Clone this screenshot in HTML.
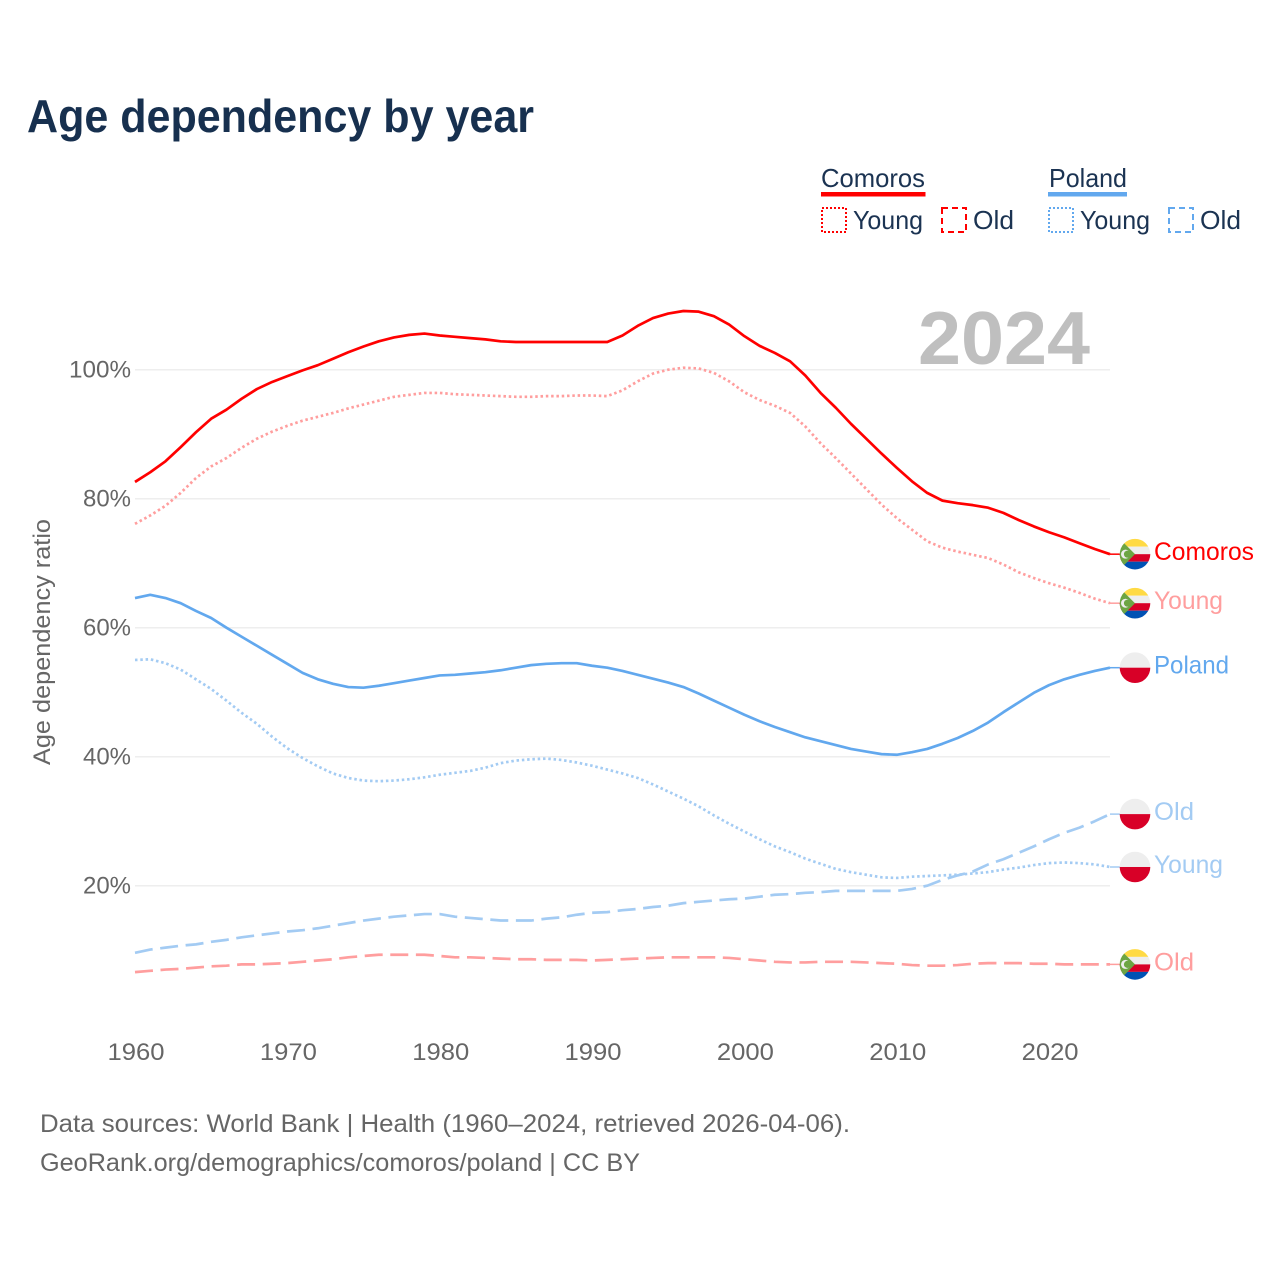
<!DOCTYPE html>
<html lang="en">
<head>
<meta charset="utf-8">
<title>Age dependency by year</title>
<style>
html,body{margin:0;padding:0;background:#fff;}
svg{display:block;}
text{font-family:"Liberation Sans",sans-serif;}
</style>
</head>
<body>
<svg id="chart" xmlns="http://www.w3.org/2000/svg" width="1280" height="1280" viewBox="0 0 1280 1280">
<defs><clipPath id="flag-clip"><circle cx="0" cy="0" r="15.3"/></clipPath></defs>
<rect x="0" y="0" width="1280" height="1280" fill="#fff"/>
<text x="27" y="132" font-size="46" font-weight="700" fill="#17304f" textLength="507" lengthAdjust="spacingAndGlyphs">Age dependency by year</text>

<g font-size="26" fill="#1b3352">
  <text x="821" y="187" textLength="104" lengthAdjust="spacingAndGlyphs">Comoros</text>
  <rect x="821" y="192" width="104.500" height="4.500" fill="#ff0000"/>
  <rect x="822" y="208" width="24" height="24" fill="none" stroke="#ff0000" stroke-width="2" stroke-dasharray="2 2"/>
  <text x="853" y="229" textLength="70" lengthAdjust="spacingAndGlyphs">Young</text>
  <rect x="942" y="208" width="24" height="24" fill="none" stroke="#ff0000" stroke-width="2" stroke-dasharray="6 4"/>
  <text x="973" y="229" textLength="41" lengthAdjust="spacingAndGlyphs">Old</text>
  <text x="1049" y="187" textLength="78" lengthAdjust="spacingAndGlyphs">Poland</text>
  <rect x="1048" y="192" width="79" height="4.500" fill="#62a8ee"/>
  <rect x="1049" y="208" width="24" height="24" fill="none" stroke="#62a8ee" stroke-width="2" stroke-dasharray="2 2"/>
  <text x="1080" y="229" textLength="70" lengthAdjust="spacingAndGlyphs">Young</text>
  <rect x="1169" y="208" width="24" height="24" fill="none" stroke="#62a8ee" stroke-width="2" stroke-dasharray="6 4"/>
  <text x="1200" y="229" textLength="41" lengthAdjust="spacingAndGlyphs">Old</text>
</g>

<g id="grid"></g>
<text x="918" y="364" font-size="75" font-weight="700" fill="#bfbfbf" textLength="172" lengthAdjust="spacingAndGlyphs">2024</text>
<g id="y-ticks" font-size="24" fill="#666"></g>
<g id="x-ticks" font-size="24" fill="#666"></g>
<text transform="translate(50 642) rotate(-90)" text-anchor="middle" font-size="24" fill="#666" textLength="246" lengthAdjust="spacingAndGlyphs">Age dependency ratio</text>
<g id="series"></g>
<g id="end-labels" font-size="25"></g>

<text x="40" y="1132" font-size="25" fill="#666" textLength="810" lengthAdjust="spacingAndGlyphs">Data sources: World Bank | Health (1960–2024, retrieved 2026-04-06).</text>
<text x="40" y="1171" font-size="25" fill="#666" textLength="600" lengthAdjust="spacingAndGlyphs">GeoRank.org/demographics/comoros/poland | CC BY</text>
</svg>

<script>
var startYear = 1960;
var endYear = 2024;
var yTickValues = [20, 40, 60, 80, 100];
var xTickYears = [1960, 1970, 1980, 1990, 2000, 2010, 2020];

var comorosTotal = [
82.6,84.1,85.8,88.0,90.3,92.4,93.8,95.5,97.0,98.1,
99.0,99.9,100.7,101.7,102.7,103.6,104.4,105.0,105.4,105.6,
105.3,105.1,104.9,104.7,104.4,104.3,104.3,104.3,104.3,104.3,
104.3,104.3,105.3,106.8,108.0,108.7,109.1,109.0,108.3,107.0,
105.2,103.7,102.6,101.3,99.1,96.4,94.1,91.6,89.3,87.0,
84.8,82.7,80.9,79.7,79.3,79.0,78.6,77.8,76.7,75.7,
74.8,74.0,73.1,72.2,71.4];

var comorosYoung = [
76.1,77.4,78.9,80.9,83.2,85.0,86.3,87.9,89.3,90.4,
91.3,92.1,92.7,93.3,94.0,94.6,95.2,95.8,96.1,96.4,
96.4,96.2,96.1,96.0,95.9,95.8,95.8,95.9,95.9,96.0,
96.0,95.9,96.8,98.2,99.4,100.0,100.3,100.2,99.5,98.2,
96.5,95.3,94.4,93.3,91.2,88.6,86.3,83.9,81.5,79.1,
77.0,75.2,73.4,72.4,71.8,71.3,70.8,69.8,68.6,67.7,
66.9,66.2,65.4,64.5,63.8];

var comorosOld = [
6.6,6.8,7.0,7.1,7.3,7.5,7.6,7.8,7.8,7.9,
8.0,8.2,8.4,8.6,8.9,9.1,9.3,9.3,9.3,9.3,
9.1,8.9,8.9,8.8,8.7,8.6,8.6,8.5,8.5,8.5,
8.4,8.5,8.6,8.7,8.8,8.9,8.9,8.9,8.9,8.8,
8.6,8.4,8.2,8.1,8.1,8.2,8.2,8.2,8.1,8.0,
7.9,7.7,7.6,7.6,7.7,7.9,8.0,8.0,8.0,7.9,
7.9,7.8,7.8,7.8,7.8];

var polandTotal = [
64.6,65.1,64.6,63.8,62.6,61.5,60.0,58.6,57.2,55.8,
54.4,53.0,52.0,51.3,50.8,50.7,51.0,51.4,51.8,52.2,
52.6,52.7,52.9,53.1,53.4,53.8,54.2,54.4,54.5,54.5,
54.1,53.8,53.3,52.7,52.1,51.5,50.8,49.8,48.7,47.6,
46.5,45.5,44.6,43.8,43.0,42.4,41.8,41.2,40.8,40.4,
40.3,40.7,41.2,42.0,42.9,44.0,45.3,46.9,48.4,49.9,
51.1,52.0,52.7,53.3,53.8];

var polandYoung = [
55.0,55.1,54.5,53.5,52.0,50.5,48.7,46.8,45.1,43.1,
41.3,39.8,38.5,37.4,36.7,36.3,36.2,36.3,36.5,36.8,
37.2,37.5,37.8,38.3,39.0,39.4,39.6,39.7,39.5,39.1,
38.6,38.0,37.4,36.7,35.7,34.6,33.5,32.3,30.9,29.6,
28.4,27.2,26.1,25.2,24.2,23.4,22.6,22.1,21.7,21.3,
21.2,21.4,21.5,21.6,21.7,21.9,22.1,22.5,22.8,23.2,
23.5,23.6,23.5,23.3,22.9];

var polandOld = [
9.6,10.1,10.4,10.7,10.9,11.3,11.6,12.0,12.3,12.6,
12.9,13.1,13.4,13.8,14.2,14.6,14.9,15.2,15.4,15.6,
15.6,15.2,15.0,14.8,14.6,14.6,14.6,14.9,15.1,15.5,
15.8,15.9,16.2,16.4,16.7,16.9,17.3,17.5,17.7,17.9,
18.0,18.3,18.6,18.7,18.9,19.0,19.2,19.2,19.2,19.2,
19.2,19.5,20.0,20.9,21.6,22.2,23.3,24.1,25.1,26.1,
27.2,28.2,29.0,30.0,31.1];

var seriesNames = ['comoros-old','poland-old','poland-young','comoros-young','poland-total','comoros-total'];
var seriesValues = [comorosOld, polandOld, polandYoung, comorosYoung, polandTotal, comorosTotal];
var seriesLabels = ['Old','Old','Young','Young','Poland','Comoros'];
var seriesCountries = ['comoros','poland','poland','comoros','poland','comoros'];
var seriesKinds = ['old','old','young','young','total','total'];

var NS = 'http://www.w3.org/2000/svg';
var countryColor = {comoros:{total:'#ff0000',light:'#ff9e9e'}, poland:{total:'#62a8ee',light:'#a3cbf3'}};

function xScale(year){ return 135 + (year - startYear) * (975 / (endYear - startYear)); }
function yScale(v){ return 1014.7 - v * 6.45; }
function make(tag, attrs, parent){
  var el = document.createElementNS(NS, tag);
  for (var k in attrs) el.setAttribute(k, attrs[k]);
  parent.appendChild(el);
  return el;
}

var gridG = document.getElementById('grid');
var yTicksG = document.getElementById('y-ticks');
yTickValues.forEach(function(v){
  var line = make('line', {x1:135, x2:1110, y1:yScale(v), y2:yScale(v), stroke:'#eeeeee', 'stroke-width':1.5}, gridG);
  
  
  var t = make('text', {x:131, y:yScale(v)+8, 'text-anchor':'end', textLength:(v >= 100 ? 62 : 48), lengthAdjust:'spacingAndGlyphs'}, yTicksG);
  t.textContent = v + '%';
  
  
});

var xTicksG = document.getElementById('x-ticks');
xTickYears.forEach(function(yr){
  var t = make('text', {x:xScale(yr)+1, y:1060, 'text-anchor':'middle', textLength:57, lengthAdjust:'spacingAndGlyphs'}, xTicksG);
  t.textContent = String(yr);
  
  
});

function drawFlag(country, cx, cy, parent){
  var g = make('g', {transform:'translate(' + cx + ' ' + cy + ')'}, parent);
  
  
  var c = make('g', {'clip-path':'url(#flag-clip)'}, g);
  if (country === 'poland') {
    make('rect', {x:-16, y:-16, width:32, height:16, fill:'#eeeeee'}, c);
    make('rect', {x:-16, y:0, width:32, height:16, fill:'#d80027'}, c);
  } else {
    make('rect', {x:-16, y:-16, width:32, height:8.5, fill:'#ffda44'}, c);
    make('rect', {x:-16, y:-7.500, width:32, height:7.500, fill:'#eeeeee'}, c);
    make('rect', {x:-16, y:0, width:32, height:7.500, fill:'#d80027'}, c);
    make('rect', {x:-16, y:7.500, width:32, height:8.5, fill:'#0052b4'}, c);
    make('polygon', {points:'-16,-16 0,0 -16,16', fill:'#6da544'}, c);
    make('circle', {cx:-9.5, cy:0, r:4.5, fill:'#eeeeee'}, c);
    make('circle', {cx:-7.5, cy:0, r:3.6, fill:'#6da544'}, c);
  }
}

var seriesG = document.getElementById('series');
var labelsG = document.getElementById('end-labels');
seriesValues.forEach(function(values, i){
  var country = seriesCountries[i], kind = seriesKinds[i];
  var col = countryColor[country];
  var stroke = kind === 'total' ? col.total : col.light;
  var dash = kind === 'young' ? '2.5 2.8' : (kind === 'old' ? '18 7.6' : 'none');
  var pts = values.map(function(v, j){ return xScale(startYear + j).toFixed(2) + ',' + yScale(v).toFixed(2); });
  var line = make('polyline', {points:pts.join(' '), fill:'none', stroke:stroke, 'stroke-width':2.7, 'stroke-dasharray':dash, 'stroke-linejoin':'round'}, seriesG);
  
  
  var lastY = yScale(values[values.length - 1]);
  var stub = make('line', {x1:xScale(endYear), x2:1122, y1:lastY, y2:lastY, stroke:stroke, 'stroke-width':1.5}, seriesG);
  
  
  drawFlag(country, 1135, lastY, labelsG);
  var t = make('text', {x:1154, y:lastY + 6, fill:stroke}, labelsG);
  t.textContent = seriesLabels[i];
  t.setAttribute('textLength', {Comoros:100, Poland:75, Young:69, Old:40}[seriesLabels[i]]);
  t.setAttribute('lengthAdjust', 'spacingAndGlyphs');
  
  
});
</script>
</body>
</html>
